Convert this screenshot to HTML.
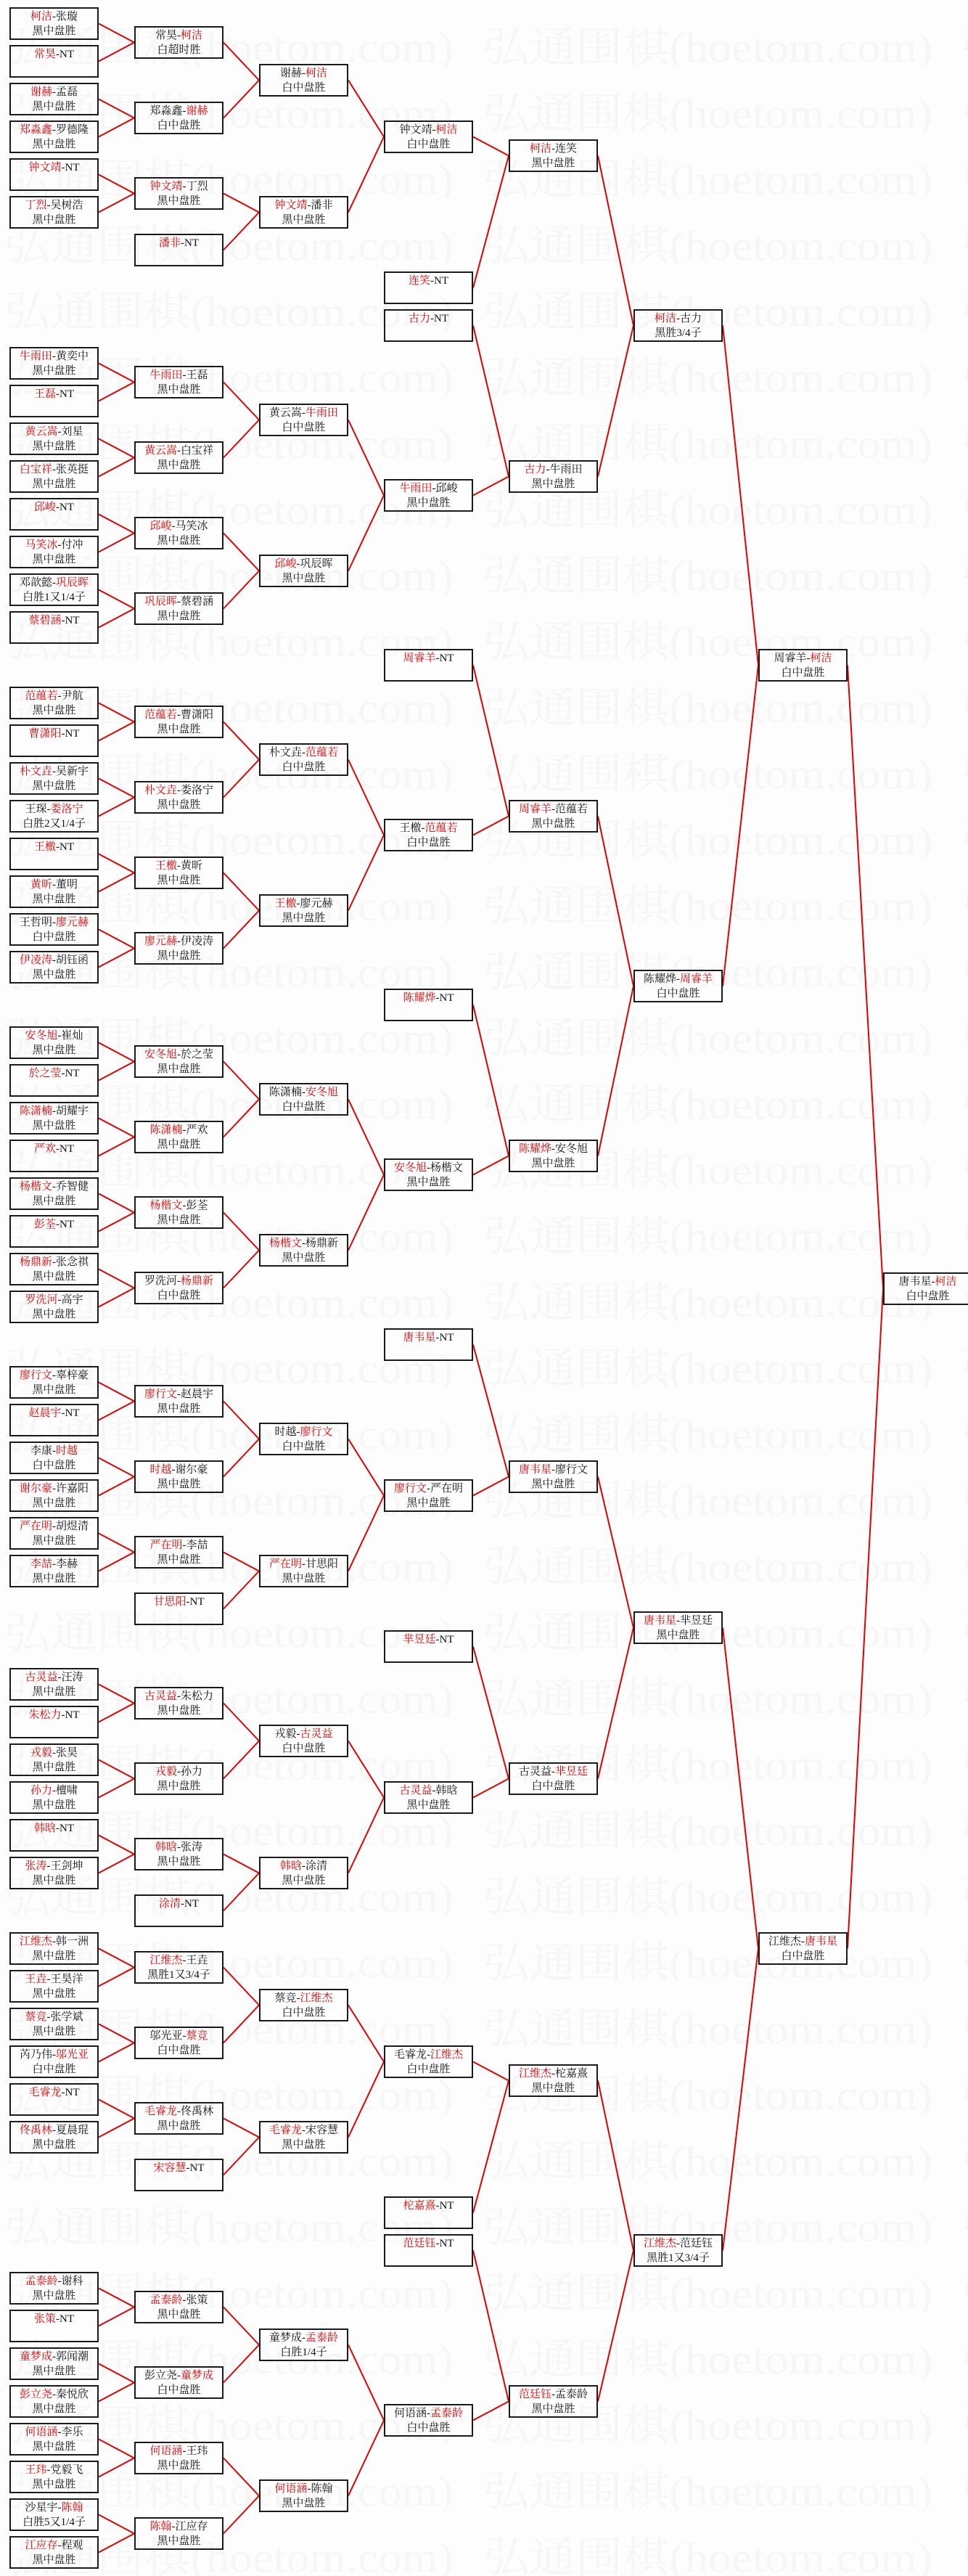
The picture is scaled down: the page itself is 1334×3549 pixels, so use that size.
<!DOCTYPE html>
<html><head><meta charset="utf-8">
<style>
html,body{margin:0;padding:0;}
body{width:1334px;height:3549px;position:relative;background:#fdfdfd;overflow:hidden;font-family:"Liberation Serif","Noto Serif CJK SC","Noto Sans CJK SC",serif;}
svg{position:absolute;left:0;top:0;}
.b{position:absolute;width:123px;height:45px;box-sizing:border-box;border:2px solid #1a1a1a;font-size:15px;line-height:20px;padding-top:1px;text-align:center;color:#111;white-space:nowrap;}
.r{color:#e00000;}
.c1{left:13px}.c2{left:185px}.c3{left:357px}.c4{left:529px}.c5{left:701px}.c6{left:873px}.c7{left:1045px}.c8{left:1217px}
</style></head><body>
<svg width="1334" height="3549">
<defs><pattern id="wm" x="0" y="0" width="660" height="91" patternUnits="userSpaceOnUse">
<text x="5" y="85" font-size="58" fill="#f6f6f6" font-family="Liberation Serif,Noto Serif CJK SC,serif" textLength="620" lengthAdjust="spacingAndGlyphs">弘通围棋(hoetom.com)</text>
</pattern></defs>
<rect x="0" y="-20" width="1334" height="3570" fill="url(#wm)"/>
<g stroke="#e00000" stroke-width="2" fill="none" transform="translate(0,22.5)">
<line x1="136" y1="10" x2="185" y2="36"/><line x1="136" y1="62" x2="185" y2="36"/>
<line x1="136" y1="114" x2="185" y2="140"/><line x1="136" y1="166" x2="185" y2="140"/>
<line x1="136" y1="218" x2="185" y2="244"/><line x1="136" y1="270" x2="185" y2="244"/>
<line x1="136" y1="478" x2="185" y2="504"/><line x1="136" y1="530" x2="185" y2="504"/>
<line x1="136" y1="582" x2="185" y2="608"/><line x1="136" y1="634" x2="185" y2="608"/>
<line x1="136" y1="686" x2="185" y2="712"/><line x1="136" y1="738" x2="185" y2="712"/>
<line x1="136" y1="790" x2="185" y2="816"/><line x1="136" y1="842" x2="185" y2="816"/>
<line x1="136" y1="946" x2="185" y2="972"/><line x1="136" y1="998" x2="185" y2="972"/>
<line x1="136" y1="1050" x2="185" y2="1076"/><line x1="136" y1="1102" x2="185" y2="1076"/>
<line x1="136" y1="1154" x2="185" y2="1180"/><line x1="136" y1="1206" x2="185" y2="1180"/>
<line x1="136" y1="1258" x2="185" y2="1284"/><line x1="136" y1="1310" x2="185" y2="1284"/>
<line x1="136" y1="1414" x2="185" y2="1440"/><line x1="136" y1="1466" x2="185" y2="1440"/>
<line x1="136" y1="1518" x2="185" y2="1544"/><line x1="136" y1="1570" x2="185" y2="1544"/>
<line x1="136" y1="1622" x2="185" y2="1648"/><line x1="136" y1="1674" x2="185" y2="1648"/>
<line x1="136" y1="1726" x2="185" y2="1752"/><line x1="136" y1="1778" x2="185" y2="1752"/>
<line x1="136" y1="1882" x2="185" y2="1908"/><line x1="136" y1="1934" x2="185" y2="1908"/>
<line x1="136" y1="1986" x2="185" y2="2012"/><line x1="136" y1="2038" x2="185" y2="2012"/>
<line x1="136" y1="2090" x2="185" y2="2116"/><line x1="136" y1="2142" x2="185" y2="2116"/>
<line x1="136" y1="2298" x2="185" y2="2324"/><line x1="136" y1="2350" x2="185" y2="2324"/>
<line x1="136" y1="2402" x2="185" y2="2428"/><line x1="136" y1="2454" x2="185" y2="2428"/>
<line x1="136" y1="2506" x2="185" y2="2532"/><line x1="136" y1="2558" x2="185" y2="2532"/>
<line x1="136" y1="2662" x2="185" y2="2688"/><line x1="136" y1="2714" x2="185" y2="2688"/>
<line x1="136" y1="2766" x2="185" y2="2792"/><line x1="136" y1="2818" x2="185" y2="2792"/>
<line x1="136" y1="2870" x2="185" y2="2896"/><line x1="136" y1="2922" x2="185" y2="2896"/>
<line x1="136" y1="3130" x2="185" y2="3156"/><line x1="136" y1="3182" x2="185" y2="3156"/>
<line x1="136" y1="3234" x2="185" y2="3260"/><line x1="136" y1="3286" x2="185" y2="3260"/>
<line x1="136" y1="3338" x2="185" y2="3364"/><line x1="136" y1="3390" x2="185" y2="3364"/>
<line x1="136" y1="3442" x2="185" y2="3468"/><line x1="136" y1="3494" x2="185" y2="3468"/>
<line x1="308" y1="36" x2="357" y2="88"/><line x1="308" y1="140" x2="357" y2="88"/>
<line x1="308" y1="244" x2="357" y2="270"/><line x1="308" y1="322" x2="357" y2="270"/>
<line x1="308" y1="504" x2="357" y2="556"/><line x1="308" y1="608" x2="357" y2="556"/>
<line x1="308" y1="712" x2="357" y2="764"/><line x1="308" y1="816" x2="357" y2="764"/>
<line x1="308" y1="972" x2="357" y2="1024"/><line x1="308" y1="1076" x2="357" y2="1024"/>
<line x1="308" y1="1180" x2="357" y2="1232"/><line x1="308" y1="1284" x2="357" y2="1232"/>
<line x1="308" y1="1440" x2="357" y2="1492"/><line x1="308" y1="1544" x2="357" y2="1492"/>
<line x1="308" y1="1648" x2="357" y2="1700"/><line x1="308" y1="1752" x2="357" y2="1700"/>
<line x1="308" y1="1908" x2="357" y2="1960"/><line x1="308" y1="2012" x2="357" y2="1960"/>
<line x1="308" y1="2116" x2="357" y2="2142"/><line x1="308" y1="2194" x2="357" y2="2142"/>
<line x1="308" y1="2324" x2="357" y2="2376"/><line x1="308" y1="2428" x2="357" y2="2376"/>
<line x1="308" y1="2532" x2="357" y2="2558"/><line x1="308" y1="2610" x2="357" y2="2558"/>
<line x1="308" y1="2688" x2="357" y2="2740"/><line x1="308" y1="2792" x2="357" y2="2740"/>
<line x1="308" y1="2896" x2="357" y2="2922"/><line x1="308" y1="2974" x2="357" y2="2922"/>
<line x1="308" y1="3156" x2="357" y2="3208"/><line x1="308" y1="3260" x2="357" y2="3208"/>
<line x1="308" y1="3364" x2="357" y2="3416"/><line x1="308" y1="3468" x2="357" y2="3416"/>
<line x1="480" y1="88" x2="529" y2="166"/><line x1="480" y1="270" x2="529" y2="166"/>
<line x1="480" y1="556" x2="529" y2="660"/><line x1="480" y1="764" x2="529" y2="660"/>
<line x1="480" y1="1024" x2="529" y2="1128"/><line x1="480" y1="1232" x2="529" y2="1128"/>
<line x1="480" y1="1492" x2="529" y2="1596"/><line x1="480" y1="1700" x2="529" y2="1596"/>
<line x1="480" y1="1960" x2="529" y2="2038"/><line x1="480" y1="2142" x2="529" y2="2038"/>
<line x1="480" y1="2376" x2="529" y2="2454"/><line x1="480" y1="2558" x2="529" y2="2454"/>
<line x1="480" y1="2740" x2="529" y2="2818"/><line x1="480" y1="2922" x2="529" y2="2818"/>
<line x1="480" y1="3208" x2="529" y2="3312"/><line x1="480" y1="3416" x2="529" y2="3312"/>
<line x1="652" y1="166" x2="701" y2="192"/><line x1="652" y1="374" x2="701" y2="192"/>
<line x1="652" y1="426" x2="701" y2="634"/><line x1="652" y1="660" x2="701" y2="634"/>
<line x1="652" y1="894" x2="701" y2="1102"/><line x1="652" y1="1128" x2="701" y2="1102"/>
<line x1="652" y1="1362" x2="701" y2="1570"/><line x1="652" y1="1596" x2="701" y2="1570"/>
<line x1="652" y1="1830" x2="701" y2="2012"/><line x1="652" y1="2038" x2="701" y2="2012"/>
<line x1="652" y1="2246" x2="701" y2="2428"/><line x1="652" y1="2454" x2="701" y2="2428"/>
<line x1="652" y1="2818" x2="701" y2="2844"/><line x1="652" y1="3026" x2="701" y2="2844"/>
<line x1="652" y1="3078" x2="701" y2="3286"/><line x1="652" y1="3312" x2="701" y2="3286"/>
<line x1="824" y1="192" x2="873" y2="426"/><line x1="824" y1="634" x2="873" y2="426"/>
<line x1="824" y1="1102" x2="873" y2="1336"/><line x1="824" y1="1570" x2="873" y2="1336"/>
<line x1="824" y1="2012" x2="873" y2="2220"/><line x1="824" y1="2428" x2="873" y2="2220"/>
<line x1="824" y1="2844" x2="873" y2="3078"/><line x1="824" y1="3286" x2="873" y2="3078"/>
<line x1="996" y1="426" x2="1045" y2="894"/><line x1="996" y1="1336" x2="1045" y2="894"/>
<line x1="996" y1="2220" x2="1045" y2="2662"/><line x1="996" y1="3078" x2="1045" y2="2662"/>
<line x1="1168" y1="894" x2="1217" y2="1753"/><line x1="1168" y1="2662" x2="1217" y2="1753"/>
</g>
</svg>

<div class="b c1" style="top:10px"><span class="r">柯洁</span>-张璇<br>黑中盘胜</div>
<div class="b c1" style="top:62px"><span class="r">常昊</span>-NT</div>
<div class="b c1" style="top:114px"><span class="r">谢赫</span>-孟磊<br>黑中盘胜</div>
<div class="b c1" style="top:166px"><span class="r">郑淼鑫</span>-罗德隆<br>黑中盘胜</div>
<div class="b c1" style="top:218px"><span class="r">钟文靖</span>-NT</div>
<div class="b c1" style="top:270px"><span class="r">丁烈</span>-吴树浩<br>黑中盘胜</div>
<div class="b c2" style="top:36px">常昊-<span class="r">柯洁</span><br>白超时胜</div>
<div class="b c2" style="top:140px">郑淼鑫-<span class="r">谢赫</span><br>白中盘胜</div>
<div class="b c2" style="top:244px"><span class="r">钟文靖</span>-丁烈<br>黑中盘胜</div>
<div class="b c2" style="top:322px"><span class="r">潘非</span>-NT</div>
<div class="b c3" style="top:88px">谢赫-<span class="r">柯洁</span><br>白中盘胜</div>
<div class="b c3" style="top:270px"><span class="r">钟文靖</span>-潘非<br>黑中盘胜</div>
<div class="b c4" style="top:166px">钟文靖-<span class="r">柯洁</span><br>白中盘胜</div>
<div class="b c4" style="top:374px"><span class="r">连笑</span>-NT</div>
<div class="b c4" style="top:426px"><span class="r">古力</span>-NT</div>
<div class="b c5" style="top:192px"><span class="r">柯洁</span>-连笑<br>黑中盘胜</div>
<div class="b c5" style="top:634px"><span class="r">古力</span>-牛雨田<br>黑中盘胜</div>
<div class="b c6" style="top:426px"><span class="r">柯洁</span>-古力<br>黑胜3/4子</div>
<div class="b c7" style="top:894px">周睿羊-<span class="r">柯洁</span><br>白中盘胜</div>
<div class="b c8" style="top:1753px">唐韦星-<span class="r">柯洁</span><br>白中盘胜</div>

<div class="b c1" style="top:478px"><span class="r">牛雨田</span>-黄奕中<br>黑中盘胜</div>
<div class="b c1" style="top:530px"><span class="r">王磊</span>-NT</div>
<div class="b c1" style="top:582px"><span class="r">黄云嵩</span>-刘星<br>黑中盘胜</div>
<div class="b c1" style="top:634px"><span class="r">白宝祥</span>-张英挺<br>黑中盘胜</div>
<div class="b c1" style="top:686px"><span class="r">邱峻</span>-NT</div>
<div class="b c1" style="top:738px"><span class="r">马笑冰</span>-付冲<br>黑中盘胜</div>
<div class="b c1" style="top:790px">邓歆懿-<span class="r">巩辰晖</span><br>白胜1又1/4子</div>
<div class="b c1" style="top:842px"><span class="r">蔡碧涵</span>-NT</div>
<div class="b c2" style="top:504px"><span class="r">牛雨田</span>-王磊<br>黑中盘胜</div>
<div class="b c2" style="top:608px"><span class="r">黄云嵩</span>-白宝祥<br>黑中盘胜</div>
<div class="b c2" style="top:712px"><span class="r">邱峻</span>-马笑冰<br>黑中盘胜</div>
<div class="b c2" style="top:816px"><span class="r">巩辰晖</span>-蔡碧涵<br>黑中盘胜</div>
<div class="b c3" style="top:556px">黄云嵩-<span class="r">牛雨田</span><br>白中盘胜</div>
<div class="b c3" style="top:764px"><span class="r">邱峻</span>-巩辰晖<br>黑中盘胜</div>
<div class="b c4" style="top:660px"><span class="r">牛雨田</span>-邱峻<br>黑中盘胜</div>
<div class="b c4" style="top:894px"><span class="r">周睿羊</span>-NT</div>

<div class="b c1" style="top:946px"><span class="r">范蕴若</span>-尹航<br>黑中盘胜</div>
<div class="b c1" style="top:998px"><span class="r">曹潇阳</span>-NT</div>
<div class="b c1" style="top:1050px"><span class="r">朴文垚</span>-吴新宇<br>黑中盘胜</div>
<div class="b c1" style="top:1102px">王琛-<span class="r">娄洛宁</span><br>白胜2又1/4子</div>
<div class="b c1" style="top:1154px"><span class="r">王檄</span>-NT</div>
<div class="b c1" style="top:1206px"><span class="r">黄昕</span>-董明<br>黑中盘胜</div>
<div class="b c1" style="top:1258px">王哲明-<span class="r">廖元赫</span><br>白中盘胜</div>
<div class="b c1" style="top:1310px"><span class="r">伊凌涛</span>-胡钰函<br>黑中盘胜</div>
<div class="b c2" style="top:972px"><span class="r">范蕴若</span>-曹潇阳<br>黑中盘胜</div>
<div class="b c2" style="top:1076px"><span class="r">朴文垚</span>-娄洛宁<br>黑中盘胜</div>
<div class="b c2" style="top:1180px"><span class="r">王檄</span>-黄昕<br>黑中盘胜</div>
<div class="b c2" style="top:1284px"><span class="r">廖元赫</span>-伊凌涛<br>黑中盘胜</div>
<div class="b c3" style="top:1024px">朴文垚-<span class="r">范蕴若</span><br>白中盘胜</div>
<div class="b c3" style="top:1232px"><span class="r">王檄</span>-廖元赫<br>黑中盘胜</div>
<div class="b c4" style="top:1128px">王檄-<span class="r">范蕴若</span><br>白中盘胜</div>
<div class="b c5" style="top:1102px"><span class="r">周睿羊</span>-范蕴若<br>黑中盘胜</div>
<div class="b c6" style="top:1336px">陈耀烨-<span class="r">周睿羊</span><br>白中盘胜</div>
<div class="b c4" style="top:1362px"><span class="r">陈耀烨</span>-NT</div>

<div class="b c1" style="top:1414px"><span class="r">安冬旭</span>-崔灿<br>黑中盘胜</div>
<div class="b c1" style="top:1466px"><span class="r">於之莹</span>-NT</div>
<div class="b c1" style="top:1518px"><span class="r">陈潇楠</span>-胡耀宇<br>黑中盘胜</div>
<div class="b c1" style="top:1570px"><span class="r">严欢</span>-NT</div>
<div class="b c1" style="top:1622px"><span class="r">杨楷文</span>-乔智健<br>黑中盘胜</div>
<div class="b c1" style="top:1674px"><span class="r">彭荃</span>-NT</div>
<div class="b c1" style="top:1726px"><span class="r">杨鼎新</span>-张念祺<br>黑中盘胜</div>
<div class="b c1" style="top:1778px"><span class="r">罗洗河</span>-高宇<br>黑中盘胜</div>
<div class="b c2" style="top:1440px"><span class="r">安冬旭</span>-於之莹<br>黑中盘胜</div>
<div class="b c2" style="top:1544px"><span class="r">陈潇楠</span>-严欢<br>黑中盘胜</div>
<div class="b c2" style="top:1648px"><span class="r">杨楷文</span>-彭荃<br>黑中盘胜</div>
<div class="b c2" style="top:1752px">罗洗河-<span class="r">杨鼎新</span><br>白中盘胜</div>
<div class="b c3" style="top:1492px">陈潇楠-<span class="r">安冬旭</span><br>白中盘胜</div>
<div class="b c3" style="top:1700px"><span class="r">杨楷文</span>-杨鼎新<br>黑中盘胜</div>
<div class="b c4" style="top:1596px"><span class="r">安冬旭</span>-杨楷文<br>黑中盘胜</div>
<div class="b c5" style="top:1570px"><span class="r">陈耀烨</span>-安冬旭<br>黑中盘胜</div>
<div class="b c4" style="top:1830px"><span class="r">唐韦星</span>-NT</div>

<div class="b c1" style="top:1882px"><span class="r">廖行文</span>-辜梓豪<br>黑中盘胜</div>
<div class="b c1" style="top:1934px"><span class="r">赵晨宇</span>-NT</div>
<div class="b c1" style="top:1986px">李康-<span class="r">时越</span><br>白中盘胜</div>
<div class="b c1" style="top:2038px"><span class="r">谢尔豪</span>-许嘉阳<br>黑中盘胜</div>
<div class="b c1" style="top:2090px"><span class="r">严在明</span>-胡煜清<br>黑中盘胜</div>
<div class="b c1" style="top:2142px"><span class="r">李喆</span>-李赫<br>黑中盘胜</div>
<div class="b c2" style="top:1908px"><span class="r">廖行文</span>-赵晨宇<br>黑中盘胜</div>
<div class="b c2" style="top:2012px"><span class="r">时越</span>-谢尔豪<br>黑中盘胜</div>
<div class="b c2" style="top:2116px"><span class="r">严在明</span>-李喆<br>黑中盘胜</div>
<div class="b c2" style="top:2194px"><span class="r">甘思阳</span>-NT</div>
<div class="b c3" style="top:1960px">时越-<span class="r">廖行文</span><br>白中盘胜</div>
<div class="b c3" style="top:2142px"><span class="r">严在明</span>-甘思阳<br>黑中盘胜</div>
<div class="b c4" style="top:2038px"><span class="r">廖行文</span>-严在明<br>黑中盘胜</div>
<div class="b c5" style="top:2012px"><span class="r">唐韦星</span>-廖行文<br>黑中盘胜</div>
<div class="b c6" style="top:2220px"><span class="r">唐韦星</span>-芈昱廷<br>黑中盘胜</div>
<div class="b c4" style="top:2246px"><span class="r">芈昱廷</span>-NT</div>

<div class="b c1" style="top:2298px"><span class="r">古灵益</span>-汪涛<br>黑中盘胜</div>
<div class="b c1" style="top:2350px"><span class="r">朱松力</span>-NT</div>
<div class="b c1" style="top:2402px"><span class="r">戎毅</span>-张昊<br>黑中盘胜</div>
<div class="b c1" style="top:2454px"><span class="r">孙力</span>-檀啸<br>黑中盘胜</div>
<div class="b c1" style="top:2506px"><span class="r">韩晗</span>-NT</div>
<div class="b c1" style="top:2558px"><span class="r">张涛</span>-王剑坤<br>黑中盘胜</div>
<div class="b c2" style="top:2324px"><span class="r">古灵益</span>-朱松力<br>黑中盘胜</div>
<div class="b c2" style="top:2428px"><span class="r">戎毅</span>-孙力<br>黑中盘胜</div>
<div class="b c2" style="top:2532px"><span class="r">韩晗</span>-张涛<br>黑中盘胜</div>
<div class="b c2" style="top:2610px"><span class="r">涂清</span>-NT</div>
<div class="b c3" style="top:2376px">戎毅-<span class="r">古灵益</span><br>白中盘胜</div>
<div class="b c3" style="top:2558px"><span class="r">韩晗</span>-涂清<br>黑中盘胜</div>
<div class="b c4" style="top:2454px"><span class="r">古灵益</span>-韩晗<br>黑中盘胜</div>
<div class="b c5" style="top:2428px">古灵益-<span class="r">芈昱廷</span><br>白中盘胜</div>
<div class="b c7" style="top:2662px">江维杰-<span class="r">唐韦星</span><br>白中盘胜</div>

<div class="b c1" style="top:2662px"><span class="r">江维杰</span>-韩一洲<br>黑中盘胜</div>
<div class="b c1" style="top:2714px"><span class="r">王垚</span>-王昊洋<br>黑中盘胜</div>
<div class="b c1" style="top:2766px"><span class="r">蔡竞</span>-张学斌<br>黑中盘胜</div>
<div class="b c1" style="top:2818px">芮乃伟-<span class="r">邬光亚</span><br>白中盘胜</div>
<div class="b c1" style="top:2870px"><span class="r">毛睿龙</span>-NT</div>
<div class="b c1" style="top:2922px"><span class="r">佟禹林</span>-夏晨琨<br>黑中盘胜</div>
<div class="b c2" style="top:2688px"><span class="r">江维杰</span>-王垚<br>黑胜1又3/4子</div>
<div class="b c2" style="top:2792px">邬光亚-<span class="r">蔡竞</span><br>白中盘胜</div>
<div class="b c2" style="top:2896px"><span class="r">毛睿龙</span>-佟禹林<br>黑中盘胜</div>
<div class="b c2" style="top:2974px"><span class="r">宋容慧</span>-NT</div>
<div class="b c3" style="top:2740px">蔡竞-<span class="r">江维杰</span><br>白中盘胜</div>
<div class="b c3" style="top:2922px"><span class="r">毛睿龙</span>-宋容慧<br>黑中盘胜</div>
<div class="b c4" style="top:2818px">毛睿龙-<span class="r">江维杰</span><br>白中盘胜</div>
<div class="b c5" style="top:2844px"><span class="r">江维杰</span>-柁嘉熹<br>黑中盘胜</div>
<div class="b c4" style="top:3026px"><span class="r">柁嘉熹</span>-NT</div>
<div class="b c4" style="top:3078px"><span class="r">范廷钰</span>-NT</div>
<div class="b c6" style="top:3078px"><span class="r">江维杰</span>-范廷钰<br>黑胜1又3/4子</div>

<div class="b c1" style="top:3130px"><span class="r">孟泰龄</span>-谢科<br>黑中盘胜</div>
<div class="b c1" style="top:3182px"><span class="r">张策</span>-NT</div>
<div class="b c1" style="top:3234px"><span class="r">童梦成</span>-郭闻潮<br>黑中盘胜</div>
<div class="b c1" style="top:3286px"><span class="r">彭立尧</span>-秦悦欣<br>黑中盘胜</div>
<div class="b c1" style="top:3338px"><span class="r">何语涵</span>-李乐<br>黑中盘胜</div>
<div class="b c1" style="top:3390px"><span class="r">王玮</span>-党毅飞<br>黑中盘胜</div>
<div class="b c1" style="top:3442px">沙星宇-<span class="r">陈翰</span><br>白胜5又1/4子</div>
<div class="b c1" style="top:3494px"><span class="r">江应存</span>-程观<br>黑中盘胜</div>
<div class="b c2" style="top:3156px"><span class="r">孟泰龄</span>-张策<br>黑中盘胜</div>
<div class="b c2" style="top:3260px">彭立尧-<span class="r">童梦成</span><br>白中盘胜</div>
<div class="b c2" style="top:3364px"><span class="r">何语涵</span>-王玮<br>黑中盘胜</div>
<div class="b c2" style="top:3468px"><span class="r">陈翰</span>-江应存<br>黑中盘胜</div>
<div class="b c3" style="top:3208px">童梦成-<span class="r">孟泰龄</span><br>白胜1/4子</div>
<div class="b c3" style="top:3416px"><span class="r">何语涵</span>-陈翰<br>黑中盘胜</div>
<div class="b c4" style="top:3312px">何语涵-<span class="r">孟泰龄</span><br>白中盘胜</div>
<div class="b c5" style="top:3286px"><span class="r">范廷钰</span>-孟泰龄<br>黑中盘胜</div>
</body></html>
